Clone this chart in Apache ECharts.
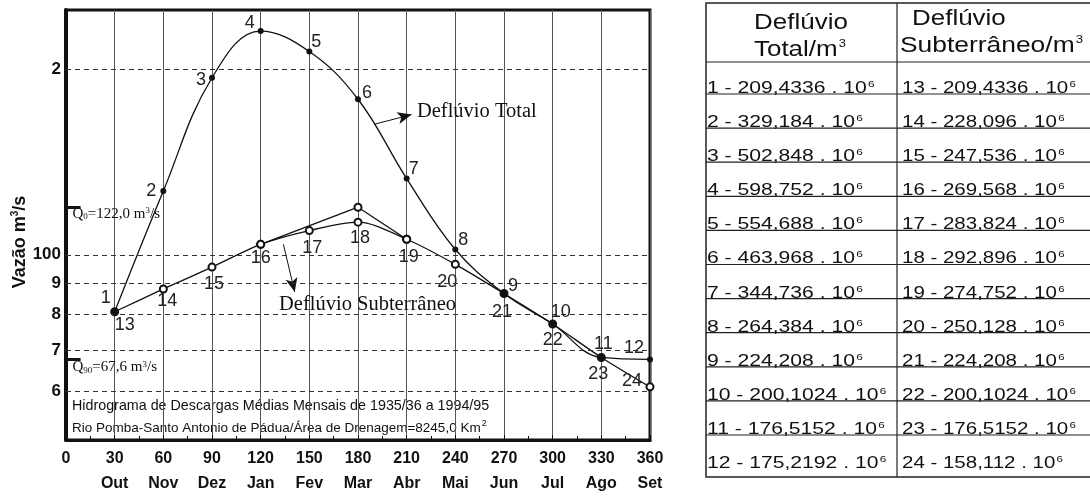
<!DOCTYPE html>
<html><head><meta charset="utf-8">
<script src="https://cdn.jsdelivr.net/npm/echarts@6/dist/echarts.min.js"></script>
<style>html,body{margin:0;padding:0;background:#fff}#c{width:1090px;height:497px}</style>
</head><body><div id="c"></div>
<script>
// ---- data ----
const months = ['Out','Nov','Dez','Jan','Fev','Mar','Abr','Mai','Jun','Jul','Ago','Set'];
const days = [30,60,90,120,150,180,210,240,270,300,330,360];
const totalFlow = [80.8,127.0,194.0,231.0,214.0,179.0,133.0,102.0,86.5,77.2,68.1,67.6];
const baseFlow  = [80.8,88.0,95.5,104.0,109.5,113.0,106.0,96.5,86.5,77.2,68.1,61.0];
const totalIds = [1,2,3,4,5,6,7,8,9,10,11,12];
const baseIds  = [13,14,15,16,17,18,19,20,21,22,23,24];
const sepDays = [120,180,210];
const sepFlow = [104.0,119.5,106.0];
const yGridValues = [60,70,80,90,100,200];
const yGridLabels = ['6','7','8','9','100','2'];
const qMean = 119.5;  const qMeanText = '122,0';
const q90 = 67.6;     const q90Text = '67,6';
const totalVol = ['209,4336','329,184','502,848','598,752','554,688','463,968','344,736','264,384','224,208','200,1024','176,5152','175,2192'];
const baseVol  = ['209,4336','228,096','247,536','269,568','283,824','292,896','274,752','250,128','224,208','200,1024','176,5152','158,112'];

// ---- label placement (style) ----
const totalOff = [[-9,-14],[-12,0],[-11,2],[-11,-8],[7,-10],[9,-6],[7,-10],[8,-9],[9,-8],[8,-12],[2,-13],[-16,-11]];
const baseOff  = [[10,13],[4,12],[2,17],[0,14],[3,17],[2,16],[2,18],[-8,18],[-2,18],[0,16],[-3,17],[-18,-6]];

const SANS = 'Liberation Sans, Arial, sans-serif';
const SERIF = 'Liberation Serif, Times New Roman, serif';
const INK = '#111';

const ptLabel = {show:true, position:'inside', fontFamily:SANS, fontSize:18, color:'#222'};

const chart = echarts.init(document.getElementById('c'));

// table graphics
const g = [];
const tL = 706, tR = 1096, tT = 3, tB = 477, colX = 897, headY = 62, row0 = 94, rowStep = 34.1;
g.push({type:'rect', shape:{x:tL, y:tT, width:tR-tL, height:tB-tT}, style:{fill:'none', stroke:'#222', lineWidth:1.5}});
g.push({type:'line', shape:{x1:colX, y1:tT, x2:colX, y2:tB}, style:{stroke:'#222', lineWidth:1.2}});
g.push({type:'line', shape:{x1:tL, y1:headY, x2:tR, y2:headY}, style:{stroke:'#222', lineWidth:1.2}});
for (let i = 0; i < 11; i++) {
  const y = row0 + i*rowStep;
  g.push({type:'line', shape:{x1:tL, y1:y, x2:tR, y2:y}, style:{stroke:'#222', lineWidth:1.2}});
}
const supRich = {s:{fontSize:9, verticalAlign:'top', fontFamily:SANS, fill:'#111', padding:[0,0,8,1]}};
const hdrRich = {s:{fontSize:11, verticalAlign:'top', fontFamily:SANS, fill:'#111', padding:[0,0,12,1]}};
const hdrStyle = (t, align) => ({text:t, fontFamily:SANS, fontSize:22, fill:'#111', align:align, verticalAlign:'middle', rich:hdrRich});
g.push({type:'text', x:801, y:23, scaleX:1.18, style:hdrStyle('Deflúvio','center')});
g.push({type:'text', x:800, y:50, scaleX:1.18, style:hdrStyle('Total/m{s|3}','center')});
g.push({type:'text', x:912, y:19, scaleX:1.18, style:hdrStyle('Deflúvio','left')});
g.push({type:'text', x:900, y:46, scaleX:1.2, style:hdrStyle('Subterrâneo/m{s|3}','left')});
for (let i = 0; i < 12; i++) {
  const y = row0 + i*rowStep + 3;
  g.push({type:'text', x:707, y:y, scaleX:1.32, style:{text: totalIds[i] + ' - ' + totalVol[i] + ' . 10{s|6}', fontFamily:SANS, fontSize:16, fill:'#111', verticalAlign:'bottom', rich:supRich}});
  g.push({type:'text', x:902, y:y, scaleX:1.28, style:{text: baseIds[i] + ' - ' + baseVol[i] + ' . 10{s|6}', fontFamily:SANS, fontSize:16, fill:'#111', verticalAlign:'bottom', rich:supRich}});
}
// captions and axis title
g.push({type:'text', x:72, y:406, style:{text:'Hidrograma de Descargas Médias Mensais de 1935/36 a 1994/95', fontFamily:SANS, fontSize:14.3, fill:'#111', verticalAlign:'middle'}});
g.push({type:'text', x:72, y:428, style:{text:'Rio Pomba-Santo Antonio de Pádua/Área de Drenagem=8245,0 Km{s|2}', fontFamily:SANS, fontSize:13.5, fill:'#111', verticalAlign:'middle', rich:supRich}});
g.push({type:'text', x:20, y:242, rotation:Math.PI/2, style:{text:'Vazão m{s|3}/s', fontFamily:SANS, fontSize:18, fontWeight:'bold', fill:'#111', align:'center', verticalAlign:'middle', rich:{s:{fontSize:10, fontWeight:'bold', verticalAlign:'top', fill:'#111', padding:[0,0,9,0]}}}});

const qRich = {sub:{fontSize:9, fontFamily:SERIF, fill:'#111', verticalAlign:'bottom', padding:[6,0,0,0]}, sup:{fontSize:9, fontFamily:SERIF, fill:'#111', verticalAlign:'top', padding:[0,0,6,0]}};

const option = {
  animation:false,
  backgroundColor:'#fff',
  grid:{left:66, right:440, top:10, bottom:57, show:true, borderColor:INK, borderWidth:3, backgroundColor:'transparent'},
  xAxis:{type:'value', min:0, max:360, interval:30,
    axisLine:{show:true, lineStyle:{color:INK, width:3}},
    axisTick:{show:true, inside:true, length:5, lineStyle:{color:INK, width:1}},
    minorTick:{show:true, splitNumber:2, length:4, lineStyle:{color:INK}},
    splitLine:{show:true, lineStyle:{color:'#555', width:1}},
    axisLabel:{margin:6, formatter:(v)=>{const i=Math.round(v/30); return '{n|'+v+'}\n{m|'+(i>0?months[i-1]:' ')+'}';},
      rich:{n:{fontFamily:SANS, fontSize:16, fontWeight:'bold', color:INK, lineHeight:25}, m:{fontFamily:SANS, fontSize:16, fontWeight:'bold', color:INK, lineHeight:25}}}
  },
  yAxis:{type:'log', logBase:10, min:50, max:250,
    axisLine:{show:true, lineStyle:{color:INK, width:4}},
    axisLabel:{show:false}, axisTick:{show:false}, splitLine:{show:false}, minorTick:{show:false}, minorSplitLine:{show:false}
  },
  graphic:g,
  series:[
    {name:'Deflúvio Total', type:'line', smooth:0.4, z:5,
      data: days.map((d,i)=>({value:[d,totalFlow[i]], label:{offset:totalOff[i]}})),
      symbol:'circle', symbolSize:6, itemStyle:{color:INK}, lineStyle:{color:INK, width:1.3},
      label:Object.assign({formatter:(p)=>String(totalIds[p.dataIndex])}, ptLabel),
      markPoint:{silent:true, symbol:'rect', symbolSize:1, itemStyle:{color:'rgba(0,0,0,0)'},
        data:[
          {coord:[216,171], label:{show:true, position:'right', distance:0, formatter:'Deflúvio Total', fontFamily:SERIF, fontSize:20.5, color:INK}},
          {coord:[131,83], label:{show:true, position:'right', distance:0, formatter:'Deflúvio Subterrâneo', fontFamily:SERIF, fontSize:20.5, color:INK}},
          {coord:[3.7,116.5], label:{show:true, position:'right', distance:0, formatter:'Q{sub|0}='+qMeanText+' m{sup|3}/s', fontFamily:SERIF, fontSize:15, color:INK, rich:qRich}},
          {coord:[3.7,65.6], label:{show:true, position:'right', distance:0, formatter:'Q{sub|90}='+q90Text+' m{sup|3}/s', fontFamily:SERIF, fontSize:15, color:INK, rich:qRich}}
        ]}
    },
    {name:'Deflúvio Subterrâneo', type:'line', smooth:0.3, z:4,
      data: days.map((d,i)=>({value:[d,baseFlow[i]], label:{offset:baseOff[i]}})),
      symbol:'emptyCircle', symbolSize:7, itemStyle:{color:INK, borderWidth:1.3}, lineStyle:{color:INK, width:1.3},
      label:Object.assign({formatter:(p)=>String(baseIds[p.dataIndex])}, ptLabel),
      markLine:{silent:true, symbol:'none', label:{show:false},
        data:[
          [{coord:[0,qMean], lineStyle:{color:INK, width:3, type:'solid'}},{coord:[9,qMean]}],
          [{coord:[0,q90], lineStyle:{color:INK, width:3, type:'solid'}},{coord:[9,q90]}],
          [{coord:[190,163], symbol:'none', lineStyle:{color:INK, width:1, type:'solid'}},{coord:[213,169], symbol:'arrow', symbolSize:[9,14]}],
          [{coord:[134,104], symbol:'none', lineStyle:{color:INK, width:1, type:'solid'}},{coord:[141,87], symbol:'arrow', symbolSize:[9,14]}]
        ]}
    },
    {name:'Separação', type:'line', z:3,
      data: sepDays.map((d,i)=>[d,sepFlow[i]]),
      symbol:'emptyCircle', symbolSize:7, itemStyle:{color:INK, borderWidth:1.3}, lineStyle:{color:INK, width:1.3},
      markLine:{silent:true, symbol:'none', lineStyle:{type:[5,4], color:'#333', width:1},
        label:{show:true, position:'start', formatter:'{b}', fontFamily:SANS, fontSize:17, fontWeight:'bold', color:INK, distance:5},
        data: yGridValues.map((v,i)=>({yAxis:v, name:yGridLabels[i]}))}
    }
  ]
};
chart.setOption(option);
</script></body></html>
